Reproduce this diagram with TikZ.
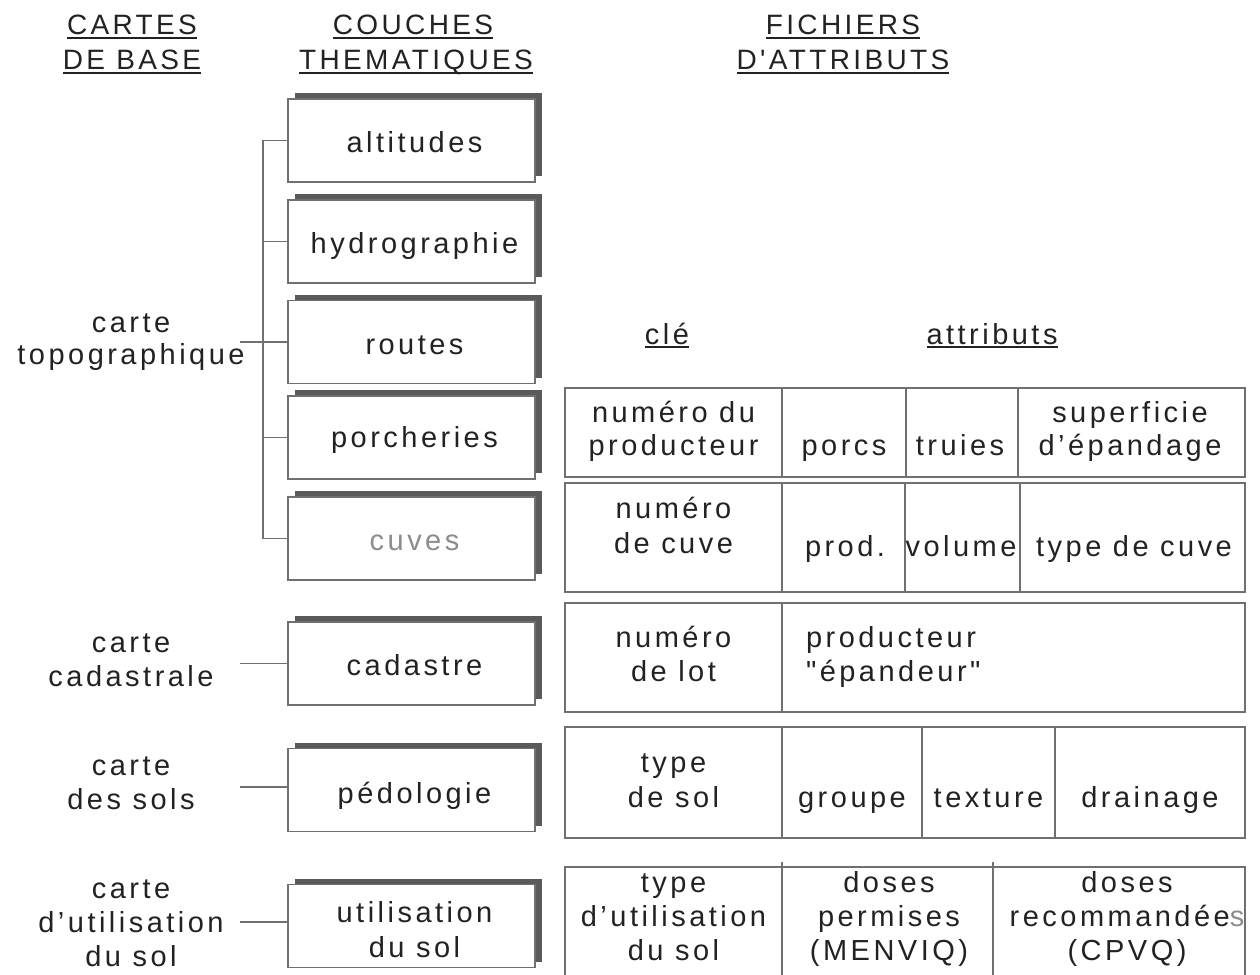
\documentclass[tikz,border=0pt]{standalone}
\usepackage{fontspec}
\setmainfont{Liberation Sans}[LetterSpace=12]
\newfontfamily\plainq{Liberation Sans}[LetterSpace=12]
\usetikzlibrary{shadows}
\definecolor{linec}{HTML}{707070}
\definecolor{shadc}{HTML}{5A5A5A}
\definecolor{txtc}{HTML}{222222}
\definecolor{faint}{HTML}{8C8C8C}
\begin{document}
\begin{tikzpicture}[x=1pt,y=-1pt,
  every node/.style={inner sep=0pt, outer sep=0pt},
  txt/.style={font=\fontsize{29}{34}\selectfont, text=txtc, anchor=base},
  lft/.style={txt, anchor=base west},
  hd/.style={font=\fontsize{28}{34}\selectfont, text=txtc, anchor=base},
  thm/.style={draw=linec, line width=1.4pt, fill=white, minimum width=247pt, minimum height=83pt,
    general shadow={fill=shadc, shadow xshift=7pt, shadow yshift=6pt}},
  conn/.style={draw=linec, line width=1.3pt},
  tab/.style={draw=linec, line width=1.3pt},
  ul/.style={draw=txtc, line width=1.6pt}]
\useasboundingbox (0,0) rectangle (1260,974);

% headings
\node[hd] (h1a) at (132,35) {CARTES};
\node[hd] (h1b) at (132,70) {DE BASE};
\node[hd] (h2a) at (413,35) {COUCHES};
\node[hd] (h2b) at (416,70) {THEMATIQUES};
\node[hd] (h3a) at (843,35) {FICHIERS};
\node[hd] (h3b) at (843,70) {\plainq D'ATTRIBUTS};
\foreach \n in {h1a,h1b,h2a,h2b,h3a,h3b}
  \draw[ul] ([yshift=-3pt]\n.base west) -- ([yshift=-3pt]\n.base east);

\node[txt] (cle) at (667,344) {clé};
\node[txt] (attr) at (992,344) {attributs};
\draw[ul] ([yshift=-3pt]cle.base west) -- ([yshift=-3pt]cle.base east);
\draw[ul] ([yshift=-3pt]attr.base west) -- ([yshift=-3pt]attr.base east);

% thematic layers
\node[thm] (alt) at (411.5,140.5) {};
\node[thm] (hyd) at (411.5,241.5) {};
\node[thm] (rou) at (411.5,342) {};
\node[thm] (por) at (411.5,437.5) {};
\node[thm] (cuv) at (411.5,538.5) {};
\node[thm] (cad) at (411.5,663.5) {};
\node[thm] (ped) at (411.5,790) {};
\node[thm] (uti) at (411.5,926) {};

\node[txt] (altT) at ([xshift=3pt,yshift=-12pt]alt.center) {altitudes};
\node[txt] (hydT) at ([xshift=3pt,yshift=-12pt]hyd.center) {hydrographie};
\node[txt] (rouT) at ([xshift=3pt,yshift=-12pt]rou.center) {routes};
\node[txt] (porT) at ([xshift=3pt,yshift=-10pt]por.center) {porcheries};
\node[txt, text=faint] (cuvT) at ([xshift=3pt,yshift=-12pt]cuv.center) {cuves};
\node[txt] (cadT) at ([xshift=3pt,yshift=-12pt]cad.center) {cadastre};
\node[txt] (pedT) at ([xshift=3pt,yshift=-13pt]ped.center) {pédologie};
\node[txt] (utiT1) at ([xshift=3pt,yshift=4pt]uti.center) {utilisation};
\node[txt] (utiT2) at ([xshift=3pt,yshift=-31pt]uti.center) {du sol};

% base maps
\node[txt] (topo1) at (131,332) {carte};
\node[txt] (topo2) at (131,364) {topographique};
\node[txt] (cadL1) at (131,652) {carte};
\node[txt] (cadL2) at (131,686) {cadastrale};
\node[txt] (solL1) at (131,775) {carte};
\node[txt] (solL2) at (131,809) {des sols};
\node[txt] (utL1) at (131,898) {carte};
\node[txt] (utL2) at (131,932) {d'utilisation};
\node[txt] (utL3) at (131,966) {du sol};

% connectors
\coordinate (bx) at (263,0);
\coordinate (topE) at ([xshift=-48pt]rou.west);
\coordinate (cadE) at ([xshift=-48pt]cad.west);
\coordinate (pedE) at ([xshift=-48pt]ped.west);
\coordinate (utiE) at ([xshift=-48pt]uti.west);
\draw[conn] (alt.west) -- (alt.west -| bx) |- (cuv.west);
\draw[conn] (hyd.west) -- (hyd.west -| bx);
\draw[conn] (por.west) -- (por.west -| bx);
\draw[conn] (topE) -- (rou.west);
\draw[conn] (cadE) -- (cad.west);
\draw[conn] ([yshift=3pt]pedE) -- ([yshift=3pt]ped.west);
\draw[conn] ([yshift=4pt]utiE) -- ([yshift=4pt]uti.west);

% attribute tables
\draw[tab] (565,388) rectangle (1245,477);
\draw[tab] (782,388) -- (782,477) (906,388) -- (906,477) (1018,388) -- (1018,477);
\draw[tab] (565,483) rectangle (1245,592);
\draw[tab] (782,483) -- (782,592) (905,483) -- (905,592) (1020,483) -- (1020,592);
\draw[tab] (565,603) rectangle (1245,712);
\draw[tab] (782,603) -- (782,712);
\draw[tab] (565,727) rectangle (1245,838);
\draw[tab] (782,727) -- (782,838) (922,727) -- (922,838) (1055,727) -- (1055,838);
\draw[tab] (565,985) -- (565,867) -- (1245,867) -- (1245,985);
\draw[tab] (782,862) -- (782,985) (993,862) -- (993,985);

% table texts
\node[txt] (k1a) at (673.5,422) {numéro du};
\node[txt] (k1b) at (673.5,455) {producteur};
\node[txt] (a1a) at (844,455) {porcs};
\node[txt] (a1b) at (960,455) {truies};
\node[txt] (a1c) at (1130,422) {superficie};
\node[txt] (a1d) at (1130,455) {d'épandage};

\node[txt] (k2a) at (673.5,518) {numéro};
\node[txt] (k2b) at (673.5,553) {de cuve};
\node[txt] (a2a) at (845,556) {prod.};
\node[txt] (a2b) at (961,556) {volume};
\node[txt] (a2c) at (1134,556) {type de cuve};

\node[txt] (k3a) at (673.5,647) {numéro};
\node[txt] (k3b) at (673.5,681) {de lot};
\node[lft] (a3a) at (806,647) {producteur};
\node[lft] (a3b) at (806,681) {\plainq "épandeur"};

\node[txt] (k4a) at (673.5,772) {type};
\node[txt] (k4b) at (673.5,807) {de sol};
\node[txt] (a4a) at (852,807) {groupe};
\node[txt] (a4b) at (988.5,807) {texture};
\node[txt] (a4c) at (1150,807) {drainage};

\node[txt] (k5a) at (673.5,892) {type};
\node[txt] (k5b) at (673.5,926) {d'utilisation};
\node[txt] (k5c) at (673.5,960) {du sol};
\node[txt] (a5a) at (889,892) {doses};
\node[txt] (a5b) at (889,926) {permises};
\node[txt] (a5c) at (889,960) {(MENVIQ)};
\node[txt] (a5d) at (1127,892) {doses};
\node[txt] (a5e) at (1127,926) {recommandée{\color{faint}s}};
\node[txt] (a5f) at (1127,960) {(CPVQ)};
\end{tikzpicture}
\end{document}
